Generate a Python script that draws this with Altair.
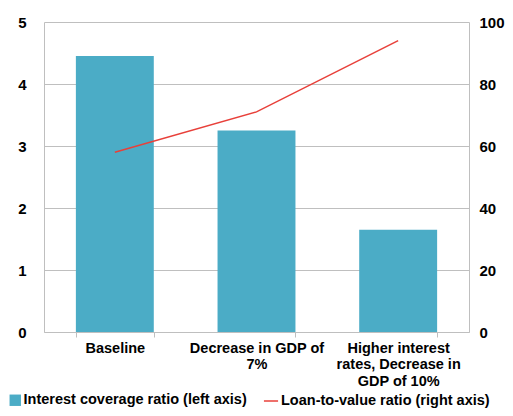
import altair as alt
import pandas as pd

categories = ["Baseline", "Decrease in GDP of 7%", "Higher interest rates, Decrease in GDP of 10%"]
category_lines = [["Baseline"], ["Decrease in GDP of", "7%"], ["Higher interest", "rates, Decrease in", "GDP of 10%"]]
interest_coverage = [4.45, 3.25, 1.65]
loan_to_value = [58, 71, 94]
left_ticks = [0, 1, 2, 3, 4, 5]
right_ticks = [0, 20, 40, 60, 80, 100]

bar_name = "Interest coverage ratio (left axis)"
line_name = "Loan-to-value ratio (right axis)"

df = pd.DataFrame({
    "cat": categories,
    "icr": interest_coverage,
    "ltv": loan_to_value,
    "bar_s": [bar_name] * 3,
    "line_s": [line_name] * 3,
})

label_expr = ""
for c, lines in zip(categories, category_lines):
    arr = "[" + ",".join("'" + l + "'" for l in lines) + "]"
    label_expr += f"datum.value == '{c}' ? {arr} : "
label_expr += "datum.label"

FONT = "Liberation Sans"
TEAL = "#4BACC6"
RED = "#E8403A"
GRID = "#BFBFBF"

x = alt.X("cat:N", sort=categories, title=None,
          scale=alt.Scale(paddingInner=0.45, paddingOuter=0.225),
          axis=alt.Axis(labelExpr=label_expr, labelAngle=0, labelFont=FONT,
                        labelFontWeight="bold", labelFontSize=14.5, labelColor="black",
                        labelLineHeight=16.5, labelPadding=4, labelBaseline="top",
                        domainColor=GRID, tickColor=GRID, tickSize=5,
                        tickBand="extent", labelLimit=200))

bars = alt.Chart(df).mark_bar().encode(
    x=x,
    y=alt.Y("icr:Q", title=None,
            scale=alt.Scale(domain=[0, 5], nice=False),
            axis=alt.Axis(values=left_ticks, grid=True, gridColor=GRID, ticks=False,
                          tickSize=0, labelPadding=18, domainColor=GRID,
                          labelFont=FONT, labelFontWeight="bold", labelFontSize=15,
                          labelColor="black", orient="left")),
    fill=alt.Fill("bar_s:N", title=None,
                  scale=alt.Scale(domain=[bar_name], range=[TEAL]),
                  legend=alt.Legend(orient="none", legendX=-36, legendY=371,
                                    symbolType="square", symbolSize=130,
                                    symbolStrokeWidth=0, labelFont=FONT,
                                    labelFontWeight="bold", labelFontSize=14.5,
                                    labelColor="black", labelOffset=1, labelLimit=300)),
)

line = alt.Chart(df).mark_line(strokeWidth=1.5).encode(
    x=x,
    y=alt.Y("ltv:Q", title=None,
            scale=alt.Scale(domain=[0, 100], nice=False),
            axis=alt.Axis(values=right_ticks, grid=False, ticks=False, tickSize=0,
                          labelPadding=10, domainColor=GRID, orient="right",
                          labelFont=FONT, labelFontWeight="bold", labelFontSize=15,
                          labelColor="black")),
    stroke=alt.Stroke("line_s:N", title=None,
                      scale=alt.Scale(domain=[line_name], range=[RED]),
                      legend=alt.Legend(orient="none", legendX=219, legendY=371,
                                        symbolType="stroke", symbolSize=200,
                                        symbolStrokeWidth=1.5, labelFont=FONT,
                                        labelFontWeight="bold", labelFontSize=14.5,
                                        labelColor="black", labelOffset=2, labelLimit=300)),
)

chart = alt.layer(bars, line).resolve_scale(y="independent").properties(
    width=425, height=310,
    autosize=alt.AutoSizeParams(type="none"),
    padding={"left": 36, "right": 36, "top": 14, "bottom": 76},
).configure_view(stroke=None)

chart.save("out.html", embed_options={"renderer": "svg", "actions": False})
